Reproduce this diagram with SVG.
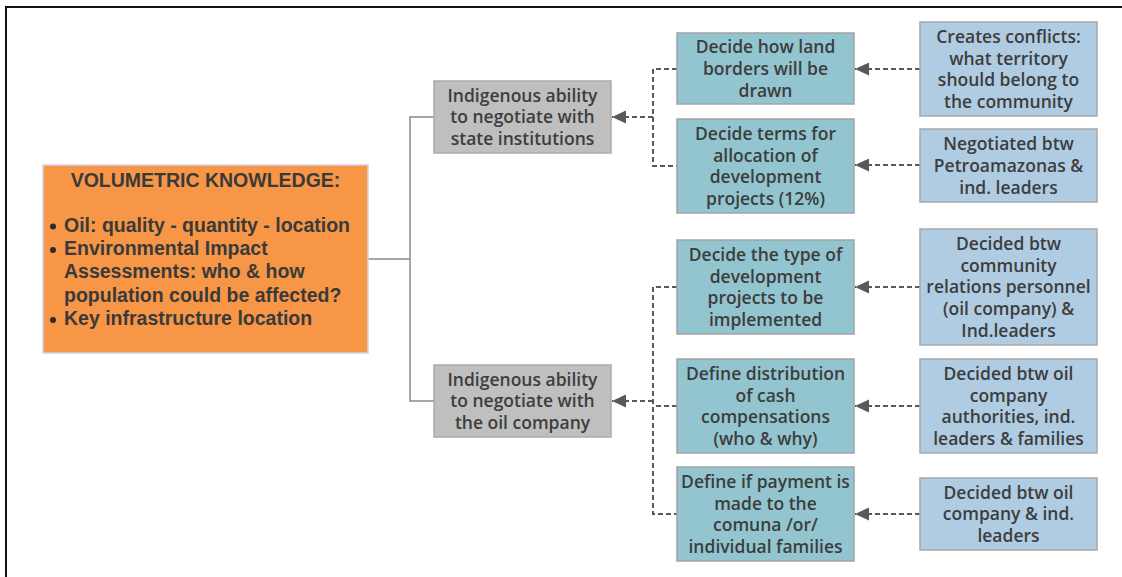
<svg xmlns="http://www.w3.org/2000/svg" width="1122" height="577" viewBox="0 0 1122 577">
<style>
.t{font-family:"Open Sans","Liberation Sans",sans-serif;font-weight:600;font-size:17.5px;fill:#3d3d3d;text-anchor:middle}
.o{font-family:"Liberation Sans",Arial,sans-serif;font-weight:bold;font-size:19.5px;fill:#3a3a3a}
.gray{fill:#BFBFBF;stroke:#ABABAB;stroke-width:1.5}
.teal{fill:#92C5CF;stroke:#A3A3A3;stroke-width:1.5}
.blue{fill:#B0CCE3;stroke:#A8A8A8;stroke-width:1.5}
.solid{fill:none;stroke:#8A8A8A;stroke-width:1.5}
.dash{fill:none;stroke:#595959;stroke-width:2;stroke-dasharray:5,3}
</style>
<defs>
<marker id="ah" markerUnits="userSpaceOnUse" markerWidth="16" markerHeight="16" viewBox="0 0 16 16" refX="14" refY="8" orient="auto">
<path d="M0,1.5 L14,8 L0,14.5 Z" fill="#595959"/>
</marker>
</defs>
<path d="M6,577 V7 H1122" fill="none" stroke="#111" stroke-width="2"/>

<g id="connectors">
<path class="solid" d="M368,259 H410"/>
<path class="solid" d="M434,117 H410 V401 H434"/>
<path class="dash" d="M677,69 H653 V166 H677"/>
<path class="dash" d="M653,117 H612" marker-end="url(#ah)"/>
<path class="dash" d="M677,287 H653 V514 H677"/>
<path class="dash" d="M677,406 H653"/>
<path class="dash" d="M653,401 H612" marker-end="url(#ah)"/>
<path class="dash" d="M920,69 H855" marker-end="url(#ah)"/>
<path class="dash" d="M920,165 H855" marker-end="url(#ah)"/>
<path class="dash" d="M920,287 H855" marker-end="url(#ah)"/>
<path class="dash" d="M920,406 H855" marker-end="url(#ah)"/>
<path class="dash" d="M920,514 H855" marker-end="url(#ah)"/>
</g>

<g id="volumetric">
<rect x="43" y="165" width="325" height="188" fill="#F79646" stroke="#D4D2EA" stroke-width="1.5"/>
<text class="o" x="205.5" y="187" text-anchor="middle">VOLUMETRIC KNOWLEDGE:</text>
<circle cx="53" cy="226.5" r="3" fill="#2a2a2a"/>
<circle cx="53" cy="250" r="3" fill="#2a2a2a"/>
<circle cx="53" cy="320" r="3" fill="#2a2a2a"/>
<text class="o" x="64" y="232">Oil: quality - quantity - location</text>
<text class="o" x="64" y="255">Environmental Impact</text>
<text class="o" x="64" y="278.3">Assessments: who &amp; how</text>
<text class="o" x="64" y="301.6">population could be affected?</text>
<text class="o" x="64" y="325">Key infrastructure location</text>
</g>

<g id="state">
<rect class="gray" x="434" y="81" width="177" height="72"/>
<text class="t" x="522.5"><tspan x="522.5" y="101.6">Indigenous ability</tspan><tspan x="522.5" y="123.3">to negotiate with</tspan><tspan x="522.5" y="145">state institutions</tspan></text>
</g>

<g id="oilcompany">
<rect class="gray" x="434" y="365" width="177" height="72"/>
<text class="t" x="522.5"><tspan x="522.5" y="385.6">Indigenous ability</tspan><tspan x="522.5" y="407.3">to negotiate with</tspan><tspan x="522.5" y="429">the oil company</tspan></text>
</g>

<g id="landborders">
<rect class="teal" x="677" y="33" width="177" height="71"/>
<text class="t"><tspan x="765.5" y="53.2">Decide how land</tspan><tspan x="765.5" y="74.9">borders will be</tspan><tspan x="765.5" y="96.6">drawn</tspan></text>
</g>

<g id="allocation">
<rect class="teal" x="677" y="119" width="177" height="94"/>
<text class="t"><tspan x="765.5" y="139.8">Decide terms for</tspan><tspan x="765.5" y="161.5">allocation of</tspan><tspan x="765.5" y="183.2">development</tspan><tspan x="765.5" y="204.9">projects (12%)</tspan></text>
</g>

<g id="typeprojects">
<rect class="teal" x="677" y="240" width="177" height="94"/>
<text class="t"><tspan x="765.5" y="260.8">Decide the type of</tspan><tspan x="765.5" y="282.5">development</tspan><tspan x="765.5" y="304.2">projects to be</tspan><tspan x="765.5" y="325.9">implemented</tspan></text>
</g>

<g id="cash">
<rect class="teal" x="677" y="359" width="177" height="94"/>
<text class="t"><tspan x="765.5" y="379.8">Define distribution</tspan><tspan x="765.5" y="401.5">of cash</tspan><tspan x="765.5" y="423.2">compensations</tspan><tspan x="765.5" y="444.9">(who &amp; why)</tspan></text>
</g>

<g id="payment">
<rect class="teal" x="677" y="467" width="177" height="94"/>
<text class="t"><tspan x="765.5" y="487.8">Define if payment is</tspan><tspan x="765.5" y="509.5">made to the</tspan><tspan x="765.5" y="531.2">comuna /or/</tspan><tspan x="765.5" y="552.9">individual families</tspan></text>
</g>

<g id="conflicts">
<rect class="blue" x="920" y="22" width="177" height="94"/>
<text class="t"><tspan x="1008.5" y="42.8">Creates conflicts:</tspan><tspan x="1008.5" y="64.5">what territory</tspan><tspan x="1008.5" y="86.2">should belong to</tspan><tspan x="1008.5" y="107.9">the community</tspan></text>
</g>

<g id="petroamazonas">
<rect class="blue" x="920" y="129" width="177" height="73"/>
<text class="t"><tspan x="1008.5" y="150.1">Negotiated btw</tspan><tspan x="1008.5" y="171.8">Petroamazonas &amp;</tspan><tspan x="1008.5" y="193.5">ind. leaders</tspan></text>
</g>

<g id="communityrelations">
<rect class="blue" x="920" y="229" width="177" height="116"/>
<text class="t"><tspan x="1008.5" y="250">Decided btw</tspan><tspan x="1008.5" y="271.7">community</tspan><tspan x="1008.5" y="293.4">relations personnel</tspan><tspan x="1008.5" y="315.1">(oil company) &amp;</tspan><tspan x="1008.5" y="336.8">Ind.leaders</tspan></text>
</g>

<g id="authorities">
<rect class="blue" x="920" y="359" width="177" height="94"/>
<text class="t"><tspan x="1008.5" y="379.8">Decided btw oil</tspan><tspan x="1008.5" y="401.5">company</tspan><tspan x="1008.5" y="423.2">authorities, ind.</tspan><tspan x="1008.5" y="444.9">leaders &amp; families</tspan></text>
</g>

<g id="oilleaders">
<rect class="blue" x="920" y="478" width="177" height="72"/>
<text class="t"><tspan x="1008.5" y="498.6">Decided btw oil</tspan><tspan x="1008.5" y="520.3">company &amp; ind.</tspan><tspan x="1008.5" y="542">leaders</tspan></text>
</g>
</svg>
